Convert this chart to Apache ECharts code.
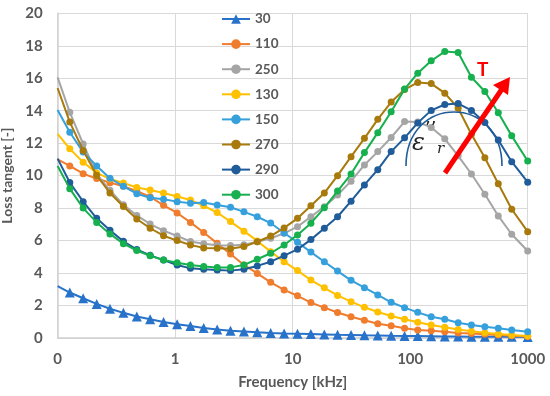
<!DOCTYPE html>
<html>
<head>
<meta charset="utf-8">
<script src="https://cdn.jsdelivr.net/npm/echarts@6/dist/echarts.min.js"></script>
<style>html,body{margin:0;padding:0;background:#fff}#c{width:550px;height:396px}</style>
</head>
<body>
<div id="c"></div>
<script>
// Frequencies in kHz
const freq = [0.1, 0.127, 0.165, 0.215, 0.279, 0.363, 0.472, 0.613, 0.797, 1.04, 1.35, 1.75, 2.28, 2.96, 3.85, 5.0, 6.5, 8.46, 11.0, 14.3, 18.6, 24.1, 31.4, 40.8, 53, 68.9, 89.6, 116, 151, 197, 256, 332, 432, 562, 731, 1000];

const seriesNames = ['30', '110', '250', '130', '150', '270', '290', '300'];

const s30 = [3.2, 2.8, 2.45, 2.1, 1.8, 1.55, 1.32, 1.15, 0.99, 0.85, 0.74, 0.62, 0.52, 0.45, 0.4, 0.35, 0.31, 0.28, 0.26, 0.24, 0.22, 0.2, 0.19, 0.17, 0.16, 0.14, 0.13, 0.12, 0.11, 0.1, 0.09, 0.08, 0.08, 0.07, 0.07, 0.06];
const s110 = [11.0, 10.6, 10.12, 9.82, 9.57, 9.35, 9.05, 8.7, 8.17, 7.7, 7.12, 6.5, 5.83, 5.17, 4.5, 3.98, 3.43, 2.96, 2.6, 2.18, 1.87, 1.57, 1.31, 1.09, 0.88, 0.75, 0.6, 0.5, 0.45, 0.39, 0.31, 0.27, 0.23, 0.19, 0.14, 0.1];
const s250 = [16.05, 13.9, 11.95, 10.1, 9.1, 8.2, 7.55, 7.02, 6.61, 6.28, 5.95, 5.8, 5.72, 5.7, 5.75, 5.93, 6.14, 6.45, 6.86, 7.47, 8.09, 8.81, 9.66, 10.66, 11.48, 12.35, 13.33, 13.3, 12.97, 12.27, 11.22, 10.1, 8.85, 7.52, 6.39, 5.36];
const s130 = [12.57, 11.65, 10.83, 10.17, 9.8, 9.55, 9.27, 9.11, 8.93, 8.72, 8.5, 8.14, 7.73, 7.17, 6.58, 5.98, 5.32, 4.7, 4.15, 3.57, 3.09, 2.62, 2.24, 1.89, 1.6, 1.36, 1.15, 0.97, 0.8, 0.66, 0.53, 0.42, 0.33, 0.25, 0.19, 0.13];
const s150 = [14.05, 12.67, 11.45, 10.6, 9.84, 9.34, 8.89, 8.64, 8.54, 8.4, 8.3, 8.35, 8.19, 8.05, 7.77, 7.47, 7.08, 6.47, 5.9, 5.29, 4.7, 4.12, 3.55, 3.1, 2.65, 2.2, 1.87, 1.58, 1.31, 1.15, 0.94, 0.8, 0.7, 0.6, 0.49, 0.39];
const s270 = [15.4, 13.3, 11.55, 10.02, 8.93, 8.1, 7.33, 6.76, 6.3, 6.0, 5.73, 5.55, 5.53, 5.5, 5.63, 5.93, 6.28, 6.78, 7.37, 8.15, 8.93, 10.0, 11.17, 12.3, 13.47, 14.53, 15.3, 15.74, 15.67, 15.08, 14.15, 12.55, 11.1, 9.5, 7.93, 6.55];
const s290 = [11.05, 9.58, 8.4, 7.37, 6.63, 5.96, 5.45, 5.09, 4.8, 4.5, 4.29, 4.23, 4.19, 4.15, 4.23, 4.44, 4.7, 5.07, 5.46, 6.06, 6.76, 7.47, 8.43, 9.43, 10.37, 11.48, 12.33, 13.25, 14.02, 14.38, 14.44, 14.02, 13.27, 12.2, 10.86, 9.6];
const s300 = [10.6, 9.2, 8.0, 7.12, 6.41, 5.81, 5.39, 5.06, 4.8, 4.63, 4.5, 4.4, 4.35, 4.35, 4.5, 4.85, 5.22, 5.73, 6.35, 7.07, 8.02, 9.05, 10.1, 11.42, 12.65, 13.94, 15.33, 16.31, 17.08, 17.64, 17.58, 16.06, 15.18, 13.87, 12.45, 10.9];

const yTicks = [0, 2, 4, 6, 8, 10, 12, 14, 16, 18, 20];
const xTickLabels = {0.1: '0', 1: '1', 10: '10', 100: '100', 1000: '1000'};

const allValues = [s30, s110, s250, s130, s150, s270, s290, s300];
const colors = ['#2872c9', '#f07c2e', '#a5a5a5', '#ffc000', '#35a0dc', '#a87a0c', '#1f5c99', '#16b04e'];
const symbols = ['triangle', 'circle', 'circle', 'circle', 'circle', 'circle', 'circle', 'circle'];

const txt = '#595959';
const font = 'Lato, "Open Sans", sans-serif';

function buildData(vals) {
  return vals.map((v, i) => i === 0 ? {value: [freq[i], v], symbol: 'none'} : [freq[i], v]);
}

const series = seriesNames.map((n, i) => ({
  name: n,
  type: 'line',
  data: buildData(allValues[i]),
  symbol: symbols[i],
  symbolSize: symbols[i] === 'triangle' ? 10 : 7,
  color: colors[i],
  lineStyle: {width: 2, color: colors[i]},
  itemStyle: {color: colors[i]},
  clip: false,
  z: 2 + i
}));

const chart = echarts.init(document.getElementById('c'), null, {renderer: 'canvas'});
chart.setOption({
  animation: false,
  backgroundColor: '#fff',
  textStyle: {fontFamily: font},
  grid: {left: 57.6, right: 22.3, top: 13.3, bottom: 58, containLabel: false, outerBoundsMode: 'none'},
  legend: {
    orient: 'vertical',
    left: 216,
    top: 7,
    itemWidth: 28,
    itemHeight: 12,
    itemGap: 11.1,
    textStyle: {color: txt, fontSize: 13.5, fontWeight: 'bold', fontFamily: font},
    data: seriesNames
  },
  xAxis: {
    type: 'log',
    logBase: 10,
    min: 0.1,
    max: 1000,
    name: 'Frequency [kHz]',
    nameLocation: 'middle',
    nameGap: 37,
    nameTextStyle: {color: txt, fontSize: 15, fontWeight: 'bold', fontFamily: font},
    axisLine: {show: true, lineStyle: {color: '#d0d0d0', width: 1.5}},
    axisTick: {show: false},
    axisLabel: {
      color: txt, fontSize: 15, fontWeight: 'bold', margin: 14, fontFamily: font,
      formatter: v => {
        const key = Object.keys(xTickLabels).find(k => Math.abs(Math.log10(+k) - Math.log10(v)) < 1e-6);
        return key !== undefined ? xTickLabels[key] : '';
      }
    },
    splitLine: {show: true, lineStyle: {color: '#d9d9d9', width: 1}}
  },
  yAxis: {
    type: 'value',
    min: yTicks[0],
    max: yTicks[yTicks.length - 1],
    interval: 2,
    name: 'Loss tangent [-]',
    nameLocation: 'middle',
    nameGap: 36,
    nameRotate: 90,
    nameTextStyle: {color: txt, fontSize: 14, fontWeight: 'bold', fontFamily: font},
    axisLine: {show: true, lineStyle: {color: '#d0d0d0', width: 1.5}},
    axisTick: {show: false},
    axisLabel: {color: txt, fontSize: 15, fontWeight: 'bold', margin: 15, fontFamily: font},
    splitLine: {show: true, lineStyle: {color: '#d9d9d9', width: 1}}
  },
  series: series,
  graphic: [
    {type: 'bezierCurve', z: 100, shape: {x1: 406, y1: 166, cpx1: 406, cpy1: 94, cpx2: 502, cpy2: 94, x2: 502, y2: 166},
     style: {fill: null, stroke: '#1f5c99', lineWidth: 1.6}},
    {type: 'text', z: 100, x: 412, y: 132, style: {text: 'ε', font: 'italic 24px "DejaVu Serif", serif', fill: '#222'}},
    {type: 'text', z: 101, x: 425, y: 120, style: {text: '\u2019\u2019', fontSize: 18, fontFamily: 'DejaVu Sans', fill: '#222'}},
    {type: 'text', z: 100, x: 437, y: 142, style: {text: 'r', font: 'italic 15px "DejaVu Serif", serif', fill: '#222'}},
    {type: 'line', z: 100, shape: {x1: 445, y1: 173, x2: 502, y2: 89}, style: {stroke: '#ff0000', lineWidth: 5}},
    {type: 'polygon', z: 100, shape: {points: [[510, 77], [508, 95], [493, 85]]}, style: {fill: '#ff0000'}},
    {type: 'text', z: 100, x: 477, y: 60, style: {text: 'T', font: 'bold 19px Lato, sans-serif', fill: '#ff0000'}}
  ]
});
</script>
</body>
</html>
